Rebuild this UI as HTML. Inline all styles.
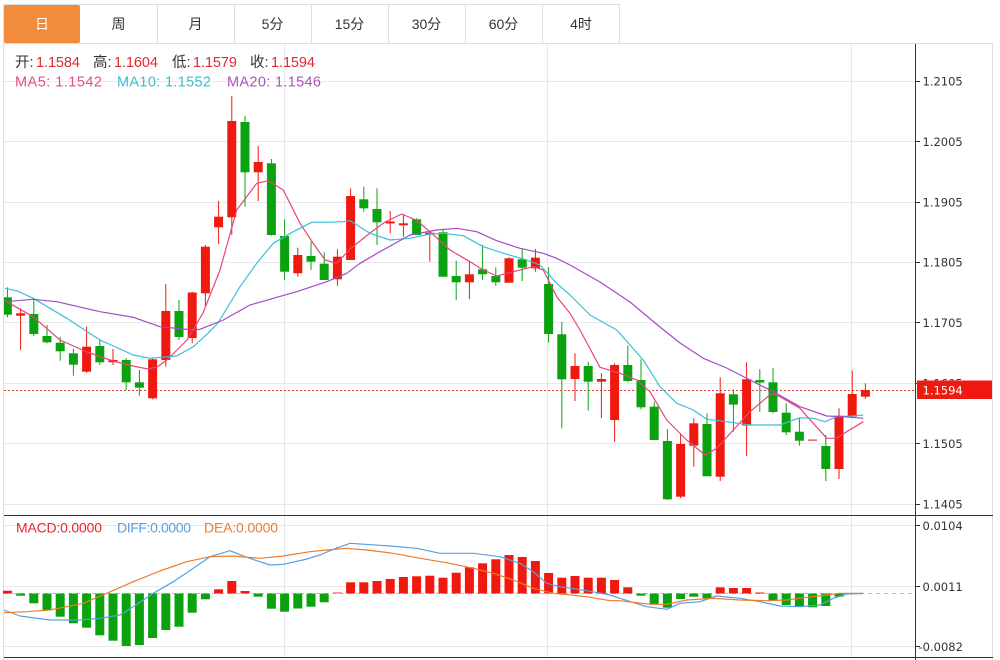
<!DOCTYPE html>
<html><head><meta charset="utf-8">
<style>
html,body{margin:0;padding:0;background:#fff;width:1000px;height:660px;overflow:hidden}
svg{display:block}
.t{font-family:"Liberation Sans","Noto Sans CJK SC",sans-serif}
.ax{font-family:"DejaVu Sans","Liberation Sans",sans-serif;font-size:11.5px;fill:#333}
.r rect{fill:#f0190f}.r line{stroke:#f0190f;stroke-width:1}
.g rect{fill:#0aa30f}.g line{stroke:#0aa30f;stroke-width:1}
</style></head><body>
<svg width="1000" height="660" viewBox="0 0 1000 660" xmlns="http://www.w3.org/2000/svg">
<!-- tabs -->
<line x1="4" y1="4.5" x2="620" y2="4.5" stroke="#ddd"/>
<rect x="4" y="5" width="76" height="38" rx="2" fill="#f28b3c"/>
<g stroke="#ddd">
<line x1="157.5" y1="4" x2="157.5" y2="43"/><line x1="234.5" y1="4" x2="234.5" y2="43"/>
<line x1="311.5" y1="4" x2="311.5" y2="43"/><line x1="388.5" y1="4" x2="388.5" y2="43"/>
<line x1="465.5" y1="4" x2="465.5" y2="43"/><line x1="542.5" y1="4" x2="542.5" y2="43"/>
<line x1="619.5" y1="4" x2="619.5" y2="43"/>
<line x1="4" y1="43.5" x2="993" y2="43.5"/>
<line x1="3.5" y1="4" x2="3.5" y2="660"/>
<line x1="992.5" y1="43" x2="992.5" y2="660"/>
</g>
<g class="t" font-size="14" text-anchor="middle" fill="#333">
<text x="42" y="29" fill="#fff">日</text>
<text x="118.5" y="29">周</text><text x="195.5" y="29">月</text>
<text x="272.5" y="29">5分</text><text x="349.5" y="29">15分</text>
<text x="426.5" y="29">30分</text><text x="503.5" y="29">60分</text>
<text x="581" y="29">4时</text>
</g>
<!-- grid -->
<g stroke="#e9e9e9">
<line x1="4" y1="81.5" x2="915" y2="81.5"/><line x1="4" y1="141.5" x2="915" y2="141.5"/>
<line x1="4" y1="202.5" x2="915" y2="202.5"/><line x1="4" y1="262.5" x2="915" y2="262.5"/>
<line x1="4" y1="322.5" x2="915" y2="322.5"/><line x1="4" y1="383.5" x2="915" y2="383.5"/>
<line x1="4" y1="443.5" x2="915" y2="443.5"/><line x1="4" y1="504.5" x2="915" y2="504.5"/>
<line x1="4" y1="525.5" x2="915" y2="525.5"/><line x1="4" y1="586.5" x2="915" y2="586.5"/>
<line x1="4" y1="646.5" x2="915" y2="646.5"/>
</g>
<g stroke="#e4e8ee">
<line x1="284.5" y1="44" x2="284.5" y2="657"/><line x1="547.5" y1="44" x2="547.5" y2="657"/>
<line x1="851.5" y1="44" x2="851.5" y2="657"/>
</g>
<!-- header text -->
<g class="t" font-size="14.5">
<text x="15" y="67" fill="#333">开:</text><text x="36" y="67" fill="#e5262a" textLength="44">1.1584</text>
<text x="93" y="67" fill="#333">高:</text><text x="114" y="67" fill="#e5262a" textLength="44">1.1604</text>
<text x="172" y="67" fill="#333">低:</text><text x="193" y="67" fill="#e5262a" textLength="44">1.1579</text>
<text x="250" y="67" fill="#333">收:</text><text x="271" y="67" fill="#e5262a" textLength="44">1.1594</text>
<text x="15" y="86.5" fill="#e0508a" textLength="87">MA5: 1.1542</text>
<text x="117" y="86.5" fill="#3cbcd0" textLength="94">MA10: 1.1552</text>
<text x="227" y="86.5" fill="#a855c0" textLength="94">MA20: 1.1546</text>
</g>
<!-- price line -->
<line x1="4" y1="390.5" x2="915" y2="390.5" stroke="#e0403a" stroke-dasharray="2 2"/>
<!-- candles red -->
<g class="r">
<line x1="20.6" y1="308.3" x2="20.6" y2="350"/><rect x="16.1" y="313.3" width="9" height="2.4"/>
<line x1="86.6" y1="326.7" x2="86.6" y2="372.7"/><rect x="82.1" y="346.7" width="9" height="25"/>
<line x1="113" y1="349" x2="113" y2="365"/><rect x="108.5" y="360" width="9" height="2.3"/>
<line x1="152.6" y1="357.7" x2="152.6" y2="399.3"/><rect x="148.1" y="359.3" width="9" height="39"/>
<line x1="165.8" y1="284" x2="165.8" y2="366.7"/><rect x="161.3" y="311" width="9" height="49"/>
<line x1="192.2" y1="291.7" x2="192.2" y2="343.3"/><rect x="187.7" y="292.5" width="9" height="45.5"/>
<line x1="205.4" y1="245" x2="205.4" y2="306.7"/><rect x="200.9" y="246.7" width="9" height="46.6"/>
<line x1="218.6" y1="201" x2="218.6" y2="244"/><rect x="214.1" y="216.7" width="9" height="10.6"/>
<line x1="231.8" y1="96" x2="231.8" y2="235"/><rect x="227.3" y="121" width="9" height="96.3"/>
<line x1="258.2" y1="146" x2="258.2" y2="201"/><rect x="253.7" y="162" width="9" height="10.3"/>
<line x1="297.8" y1="247.7" x2="297.8" y2="276.7"/><rect x="293.3" y="255" width="9" height="18.3"/>
<line x1="337.4" y1="249.3" x2="337.4" y2="285.7"/><rect x="332.9" y="256.7" width="9" height="22.6"/>
<line x1="350.6" y1="188.3" x2="350.6" y2="260"/><rect x="346.1" y="196" width="9" height="64"/>
<line x1="390.2" y1="211" x2="390.2" y2="233.3"/><rect x="385.7" y="221.5" width="9" height="2"/>
<line x1="403.4" y1="214.3" x2="403.4" y2="236.7"/><rect x="398.9" y="223.3" width="9" height="2"/>
<line x1="429.8" y1="231.7" x2="429.8" y2="261.7"/><rect x="425.3" y="232.7" width="9" height="2"/>
<line x1="469.4" y1="260.7" x2="469.4" y2="299"/><rect x="464.9" y="274.3" width="9" height="8"/>
<line x1="509" y1="257.3" x2="509" y2="282.7"/><rect x="504.5" y="258.3" width="9" height="24.4"/>
<line x1="535.4" y1="249" x2="535.4" y2="271.7"/><rect x="530.9" y="257.7" width="9" height="10.6"/>
<line x1="575" y1="353.3" x2="575" y2="401"/><rect x="570.5" y="366" width="9" height="13"/>
<line x1="601.4" y1="373.3" x2="601.4" y2="418.3"/><rect x="596.9" y="379" width="9" height="2.7"/>
<line x1="614.6" y1="363.3" x2="614.6" y2="441.7"/><rect x="610.1" y="365" width="9" height="55"/>
<line x1="680.6" y1="433.3" x2="680.6" y2="498.3"/><rect x="676.1" y="444" width="9" height="52.7"/>
<line x1="693.8" y1="418.3" x2="693.8" y2="466.7"/><rect x="689.3" y="423.3" width="9" height="22.4"/>
<line x1="720.2" y1="377.3" x2="720.2" y2="481"/><rect x="715.7" y="393.3" width="9" height="83.4"/>
<line x1="746.6" y1="362.3" x2="746.6" y2="456"/><rect x="742.1" y="379.3" width="9" height="46.2"/>
<line x1="839" y1="408.3" x2="839" y2="479"/><rect x="834.5" y="415.7" width="9" height="53.3"/>
<line x1="852.2" y1="370.7" x2="852.2" y2="418.3"/><rect x="847.7" y="394" width="9" height="22.7"/>
<line x1="865.4" y1="383.3" x2="865.4" y2="399"/><rect x="860.9" y="390" width="9" height="6.7"/>
</g>
<rect x="808.1" y="439.3" width="9" height="1.8" fill="#e87878"/>
<!-- candles green -->
<g class="g">
<line x1="7.4" y1="287.3" x2="7.4" y2="317.3"/><rect x="4" y="297.3" width="7.9" height="17.4"/>
<line x1="33.8" y1="298.3" x2="33.8" y2="336"/><rect x="29.3" y="314" width="9" height="20"/>
<line x1="47" y1="325" x2="47" y2="343.3"/><rect x="42.5" y="336" width="9" height="6.3"/>
<line x1="60.2" y1="336.7" x2="60.2" y2="360.7"/><rect x="55.7" y="342.7" width="9" height="8.6"/>
<line x1="73.4" y1="349" x2="73.4" y2="375.7"/><rect x="68.9" y="353.3" width="9" height="11.4"/>
<line x1="99.8" y1="339.3" x2="99.8" y2="365"/><rect x="95.3" y="346" width="9" height="16.3"/>
<line x1="126.2" y1="358.3" x2="126.2" y2="390"/><rect x="121.7" y="360" width="9" height="22.3"/>
<line x1="139.4" y1="370" x2="139.4" y2="395.7"/><rect x="134.9" y="382.3" width="9" height="5.4"/>
<line x1="179" y1="300" x2="179" y2="340"/><rect x="174.5" y="311" width="9" height="26"/>
<line x1="245" y1="115.7" x2="245" y2="206.7"/><rect x="240.5" y="122" width="9" height="50.3"/>
<line x1="271.4" y1="159" x2="271.4" y2="235.7"/><rect x="266.9" y="163.3" width="9" height="71.7"/>
<line x1="284.6" y1="219.3" x2="284.6" y2="280"/><rect x="280.1" y="236" width="9" height="35.7"/>
<line x1="311" y1="241.7" x2="311" y2="270"/><rect x="306.5" y="256" width="9" height="5.7"/>
<line x1="324.2" y1="252.3" x2="324.2" y2="280"/><rect x="319.7" y="263.7" width="9" height="16.3"/>
<line x1="363.8" y1="186.7" x2="363.8" y2="211.7"/><rect x="359.3" y="199.3" width="9" height="9"/>
<line x1="377" y1="188.3" x2="377" y2="245"/><rect x="372.5" y="209" width="9" height="13.3"/>
<line x1="416.6" y1="218.3" x2="416.6" y2="235"/><rect x="412.1" y="219.3" width="9" height="15.7"/>
<line x1="443" y1="230" x2="443" y2="276.7"/><rect x="438.5" y="232.3" width="9" height="44.4"/>
<line x1="456.2" y1="260.7" x2="456.2" y2="300"/><rect x="451.7" y="276" width="9" height="6.3"/>
<line x1="482.6" y1="245" x2="482.6" y2="280"/><rect x="478.1" y="269.3" width="9" height="5"/>
<line x1="495.8" y1="267.3" x2="495.8" y2="285.7"/><rect x="491.3" y="276" width="9" height="6.3"/>
<line x1="522.2" y1="248.3" x2="522.2" y2="281"/><rect x="517.7" y="259.3" width="9" height="8.4"/>
<line x1="548.6" y1="267.3" x2="548.6" y2="342.7"/><rect x="544.1" y="284" width="9" height="50"/>
<line x1="561.8" y1="321.7" x2="561.8" y2="428.3"/><rect x="557.3" y="334.3" width="9" height="45"/>
<line x1="588.2" y1="361.7" x2="588.2" y2="410.7"/><rect x="583.7" y="366" width="9" height="15.7"/>
<line x1="627.8" y1="345.7" x2="627.8" y2="382.3"/><rect x="623.3" y="365" width="9" height="16"/>
<line x1="641" y1="359.3" x2="641" y2="409.3"/><rect x="636.5" y="380" width="9" height="27.3"/>
<line x1="654.2" y1="401.7" x2="654.2" y2="440"/><rect x="649.7" y="406.7" width="9" height="33.3"/>
<line x1="667.4" y1="429" x2="667.4" y2="500"/><rect x="662.9" y="441" width="9" height="58.3"/>
<line x1="707" y1="413.3" x2="707" y2="476.3"/><rect x="702.5" y="424" width="9" height="52.3"/>
<line x1="733.4" y1="389.5" x2="733.4" y2="431.7"/><rect x="728.9" y="394.3" width="9" height="10.3"/>
<line x1="759.8" y1="369.2" x2="759.8" y2="411.7"/><rect x="755.3" y="380" width="9" height="2.5"/>
<line x1="773" y1="368.3" x2="773" y2="413.3"/><rect x="768.5" y="382.3" width="9" height="29.7"/>
<line x1="786.2" y1="403.3" x2="786.2" y2="435"/><rect x="781.7" y="412.7" width="9" height="19.6"/>
<line x1="799.4" y1="418.3" x2="799.4" y2="445.7"/><rect x="794.9" y="431.7" width="9" height="9"/>
<line x1="825.8" y1="435" x2="825.8" y2="481"/><rect x="821.3" y="446" width="9" height="23"/>
</g>
<!-- MA lines -->
<g fill="none" stroke-width="1.2" stroke-linejoin="round">
<polyline stroke="#e8457c" points="5,300.7 33,316.7 60,340 87,352 113,361 133,366 148,369 157,367 167,360 187,340 203,313 220,270 236.7,210 256.7,183.3 268.3,180.7 283.3,190 300,223.3 313,243 325,260 336.7,263.3 350,249 370,233 385,222 401.7,214 416,220 430,231.7 450,250 470,261.7 483.3,270 496.7,276 513.3,271.7 533.3,266.7 543.3,270 556.7,296.7 570,313.3 580,330 600,367.3 620,373.3 636.7,380 650,391.7 666.7,420 686.7,440 705,455 716.7,448.3 733.3,430 750,411.7 771.7,393.3 780,396.7 800,408.3 813.3,423.3 826.7,438.3 836.7,438.3 846.7,431.7 863.3,421.7"/>
<polyline stroke="#3ebfd6" points="5,288.3 16.7,290.7 33.3,298.3 66.7,318.3 100,340 133.3,355 150,358.3 176.7,356 193.3,346.7 208,333.3 218,323 240,286.7 256.7,263.3 273.3,243.3 293.3,231.7 311.7,222.3 326.7,222.3 343.3,221.7 350,220.7 370,233.3 390,240 410,238.3 430,234 443.3,233.3 463.3,235.7 483.3,246.7 503.3,253.3 526.7,260 540,265 556.7,283.3 570,295 590,315 616.7,330 643.3,360 660,386.7 676.7,403.3 693.3,410 706.7,419.3 726.7,421.7 750,425 780,425 800,417.7 813.3,418.3 825,421.7 836.7,416.7 853.3,416 863.3,415"/>
<polyline stroke="#a24cc3" points="5,301.7 33.3,299.3 56.7,301.7 100,311.7 133.3,317.3 160,326.7 193.3,330 200,329.3 223.3,320 250,305 273.3,298.3 296.7,291.7 326.7,281.7 346.7,273.3 360,263.3 380,251.7 410,235 436.7,230 456.7,228.3 476.7,231.7 496.7,240.7 520,248.3 543.3,253.3 556.7,258.3 570,265 600,282 630,302 660,327 680,343 703.3,358.3 726.7,368 750,380 773.3,391.7 800,406.7 826.7,416 843.3,416.7 863.3,418.3"/>
</g>
<!-- MACD labels -->
<g class="t" font-size="14">
<text x="16" y="532.5" fill="#e8242c" textLength="86">MACD:0.0000</text>
<text x="117" y="532.5" fill="#5a9fe0" textLength="74">DIFF:0.0000</text>
<text x="204" y="532.5" fill="#ef7b2c" textLength="74">DEA:0.0000</text>
</g>
<!-- zero line -->
<line x1="4" y1="593.5" x2="915" y2="593.5" stroke="#a8c4dc" stroke-dasharray="4 4"/>
<!-- histogram red -->
<g fill="#f0190f">
<rect x="2.9" y="590.7" width="9" height="2.8"/>
<rect x="214.1" y="589.3" width="9" height="4.2"/>
<rect x="227.3" y="581" width="9" height="12.5"/>
<rect x="240.5" y="591" width="9" height="2.5"/>
<rect x="332.9" y="592.3" width="9" height="1.2" fill="#f07070"/>
<rect x="346.1" y="582.3" width="9" height="11.2"/>
<rect x="359.3" y="582.3" width="9" height="11.2"/>
<rect x="372.5" y="581" width="9" height="12.5"/>
<rect x="385.7" y="579" width="9" height="14.5"/>
<rect x="398.9" y="577" width="9" height="16.5"/>
<rect x="412.1" y="576.3" width="9" height="17.2"/>
<rect x="425.3" y="575.7" width="9" height="17.8"/>
<rect x="438.5" y="577.7" width="9" height="15.8"/>
<rect x="451.7" y="572.7" width="9" height="20.8"/>
<rect x="464.9" y="567.3" width="9" height="26.2"/>
<rect x="478.1" y="563.3" width="9" height="30.2"/>
<rect x="491.3" y="559.3" width="9" height="34.2"/>
<rect x="504.5" y="555" width="9" height="38.5"/>
<rect x="517.7" y="557" width="9" height="36.5"/>
<rect x="530.9" y="561" width="9" height="32.5"/>
<rect x="544.1" y="573" width="9" height="20.5"/>
<rect x="557.3" y="577.7" width="9" height="15.8"/>
<rect x="570.5" y="576" width="9" height="17.5"/>
<rect x="583.7" y="577.7" width="9" height="15.8"/>
<rect x="596.9" y="577.7" width="9" height="15.8"/>
<rect x="610.1" y="580" width="9" height="13.5"/>
<rect x="623.3" y="587.3" width="9" height="6.2"/>
<rect x="715.7" y="587.3" width="9" height="6.2"/>
<rect x="728.9" y="588" width="9" height="5.5"/>
<rect x="742.1" y="588" width="9" height="5.5"/>
<rect x="755.3" y="592.5" width="9" height="1"/>
</g>
<!-- histogram green -->
<g fill="#0aa30f">
<rect x="16.1" y="593.5" width="9" height="2.2"/>
<rect x="29.3" y="593.5" width="9" height="9.8"/>
<rect x="42.5" y="593.5" width="9" height="16.5"/>
<rect x="55.7" y="593.5" width="9" height="23.2"/>
<rect x="68.9" y="593.5" width="9" height="29.8"/>
<rect x="82.1" y="593.5" width="9" height="34.2"/>
<rect x="95.3" y="593.5" width="9" height="41.8"/>
<rect x="108.5" y="593.5" width="9" height="47.2"/>
<rect x="121.7" y="593.5" width="9" height="52.5"/>
<rect x="134.9" y="593.5" width="9" height="51.5"/>
<rect x="148.1" y="593.5" width="9" height="44.5"/>
<rect x="161.3" y="593.5" width="9" height="36.5"/>
<rect x="174.5" y="593.5" width="9" height="33.2"/>
<rect x="187.7" y="593.5" width="9" height="19.2"/>
<rect x="200.9" y="593.5" width="9" height="5.8"/>
<rect x="253.7" y="593.5" width="9" height="3.2"/>
<rect x="266.9" y="593.5" width="9" height="15.2"/>
<rect x="280.1" y="593.5" width="9" height="18.2"/>
<rect x="293.3" y="593.5" width="9" height="15"/>
<rect x="306.5" y="593.5" width="9" height="13.2"/>
<rect x="319.7" y="593.5" width="9" height="8.8"/>
<rect x="636.5" y="593.5" width="9" height="2.2"/>
<rect x="649.7" y="593.5" width="9" height="10.5"/>
<rect x="662.9" y="593.5" width="9" height="14.2"/>
<rect x="676.1" y="593.5" width="9" height="5.5"/>
<rect x="689.3" y="593.5" width="9" height="3.2"/>
<rect x="702.5" y="593.5" width="9" height="4.8"/>
<rect x="768.5" y="593.5" width="9" height="7.2"/>
<rect x="781.7" y="593.5" width="9" height="11.5"/>
<rect x="794.9" y="593.5" width="9" height="13.2"/>
<rect x="808.1" y="593.5" width="9" height="13.8"/>
<rect x="821.3" y="593.5" width="9" height="12.5"/>
<rect x="834.5" y="593.5" width="9" height="3.2"/>
</g>
<!-- DIFF / DEA -->
<g fill="none" stroke-width="1.2" stroke-linejoin="round">
<polyline stroke="#5a9fe0" points="4,610 20,616 50,620 80,620 100,618.3 120,615 133.3,606.7 153.3,593.3 173.3,581.7 193.3,568.3 210,556.7 230,550.7 246.7,557.3 270,565 283.3,564.3 305,559.5 320,555 333.3,549.3 350,543.3 390,546 416.7,548.3 440,553.3 473.3,553.3 500,556.7 520,563.3 533.3,571.7 546.7,583.3 560,586.7 586.7,590.7 610,595 620,598.3 646.7,606.7 666.7,609.3 680,603.3 700,601.7 716.7,596 740,598.3 760,601.7 780,606 800,606.7 820,605 833.3,598.3 846.7,594 863.3,593.5"/>
<polyline stroke="#ef7b2c" points="4,612.7 26.7,611.7 50,610 83.3,603.3 106.7,593.3 133.3,581.7 160,571 186.7,561.7 210,556.7 233.3,556 260,558.3 283.3,556 310,551.7 326.7,550 346.7,548.3 366.7,550 393.3,553.3 420,558.3 446.7,562.7 473.3,568.3 493.3,573.3 513.3,580 533.3,588.3 553.3,593.3 586.7,596.7 610,600.7 620,600.7 650,604.3 666.7,604.3 686.7,600 713.3,598.3 740,600 766.7,600.7 786.7,600 806.7,597.3 826.7,595 840,593.3 863.3,593.3"/>
</g>
<!-- frame lines -->
<g stroke="#333">
<line x1="4" y1="515.5" x2="993" y2="515.5"/>
<line x1="4" y1="657.5" x2="993" y2="657.5"/>
<line x1="915.5" y1="44" x2="915.5" y2="660"/>
</g>
<!-- axis ticks -->
<g stroke="#333">
<line x1="915" y1="81.5" x2="920" y2="81.5"/><line x1="915" y1="141.5" x2="920" y2="141.5"/>
<line x1="915" y1="202.5" x2="920" y2="202.5"/><line x1="915" y1="262.5" x2="920" y2="262.5"/>
<line x1="915" y1="322.5" x2="920" y2="322.5"/><line x1="915" y1="383.5" x2="920" y2="383.5"/>
<line x1="915" y1="443.5" x2="920" y2="443.5"/><line x1="915" y1="504.5" x2="920" y2="504.5"/>
<line x1="915" y1="525.5" x2="920" y2="525.5"/><line x1="915" y1="586.5" x2="920" y2="586.5"/>
<line x1="915" y1="646.5" x2="920" y2="646.5"/>
</g>
<g class="ax">
<text x="922.5" y="85.7">1.2105</text>
<text x="922.5" y="145.9">1.2005</text>
<text x="922.5" y="206.5">1.1905</text>
<text x="922.5" y="266.7">1.1805</text>
<text x="922.5" y="326.9">1.1705</text>
<text x="922.5" y="387.5">1.1605</text>
<text x="922.5" y="447.9">1.1505</text>
<text x="922.5" y="508.3">1.1405</text>
<text x="922.5" y="530">0.0104</text>
<text x="922.5" y="591">0.0011</text>
<text x="918.5" y="651">-0.0082</text>
</g>
<rect x="917" y="380.5" width="75" height="18.5" fill="#f0190f"/>
<text class="ax" x="922.5" y="394.5" style="fill:#fff">1.1594</text>
</svg>
</body></html>
